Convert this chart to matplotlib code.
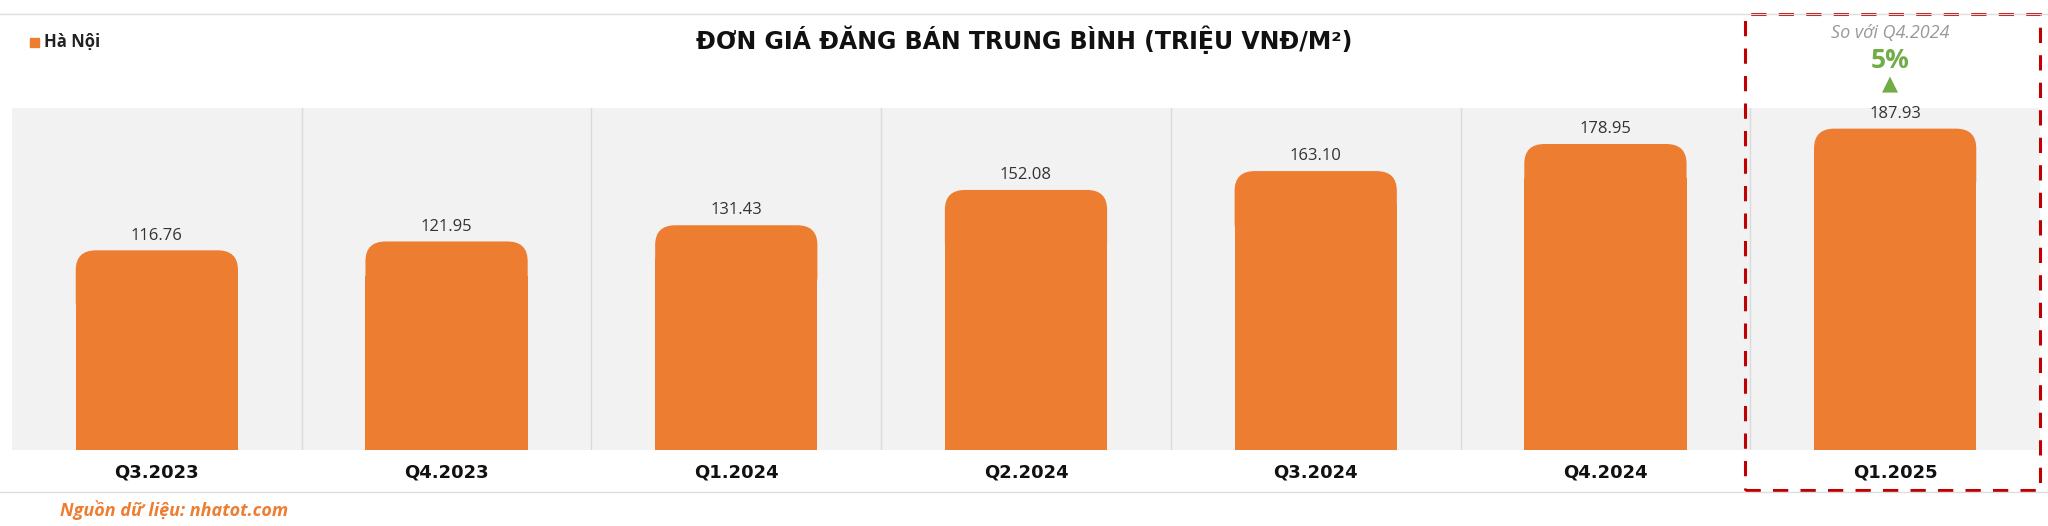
import matplotlib
matplotlib.use('Agg')
import matplotlib.pyplot as plt
from matplotlib.patches import FancyBboxPatch, Rectangle
import numpy as np

plt.rcParams['font.family'] = ['Open Sans', 'DejaVu Sans']

quarters = ['Q3.2023', 'Q4.2023', 'Q1.2024', 'Q2.2024', 'Q3.2024', 'Q4.2024', 'Q1.2025']
prices = [116.76, 121.95, 131.43, 152.08, 163.10, 178.95, 187.93]
labels = ['116.76', '121.95', '131.43', '152.08', '163.10', '178.95', '187.93']

orange = '#ED7D31'
W, H = 2048, 526
fig = plt.figure(figsize=(W / 100, H / 100), dpi=100)

ax = fig.add_axes([12 / W, (H - 450) / H, 2028 / W, 342 / H])
ax.set_facecolor('#F2F2F2')
ax.set_xlim(-0.5, len(quarters) - 0.5)
ax.set_ylim(0, 200)
for s in ax.spines.values():
    s.set_visible(False)
ax.set_xticks([])
ax.set_yticks([])

x = np.arange(len(quarters))
bw = 0.56
padx = 0.07
aspect = 165
pady = padx * aspect
# square lower part of each bar
ax.bar(x, [p - 20 for p in prices], width=bw, color=orange, zorder=2)
# rounded top caps
for xi, p in zip(x, prices):
    cap = FancyBboxPatch((xi - bw / 2 + padx, p - 30), bw - 2 * padx, 30 - pady,
                         boxstyle='round,pad=0.07', mutation_aspect=aspect,
                         fc=orange, ec='none', zorder=2)
    ax.add_patch(cap)
for xi in x[1:]:
    ax.axvline(xi - 0.5, color='#DADADA', lw=1, zorder=1)
for xi, p, lab in zip(x, prices, labels):
    ax.text(xi, p + 4, lab, ha='center', va='bottom', fontsize=12, color='#333333')
for xi, q in zip(x, quarters):
    fig.text((12 + (xi + 0.5) * 2028 / 7) / W, 1 - 472 / H, q, ha='center', va='center',
             fontsize=13, fontweight='bold', color='#111111', family='DejaVu Sans')

# frame lines
fig.add_artist(plt.Line2D([0, 1], [1 - 14 / H, 1 - 14 / H], color='#DDDDDD', lw=1))
fig.add_artist(plt.Line2D([0, 1], [1 - 492 / H, 1 - 492 / H], color='#DDDDDD', lw=1))

fig.text(1024 / W, 1 - 40 / H, 'ĐƠN GIÁ ĐĂNG BÁN TRUNG BÌNH (TRIỆU VNĐ/M²)', ha='center', va='center',
         fontsize=17, fontweight='bold', color='#111111', family='DejaVu Sans')
fig.add_artist(Rectangle((30 / W, 1 - 47 / H), 9 / W, 9 / H, color=orange))
fig.text(44 / W, 1 - 42 / H, 'Hà Nội', ha='left', va='center', fontsize=12, fontweight='bold', color='#222222')
fig.text(60 / W, 1 - 510 / H, 'Nguồn dữ liệu: nhatot.com', ha='left', va='center', fontsize=13,
         fontweight='bold', style='italic', color=orange)

# highlight box
fig.add_artist(Rectangle((1745 / W, 1 - 490 / H), 295 / W, 476 / H, fill=False, ec='#C00000',
                         lw=2.2, ls=(0, (5, 4))))
fig.text(1890 / W, 1 - 33 / H, 'So với Q4.2024', ha='center', va='center', fontsize=13,
         style='italic', color='#999999')
fig.text(1890 / W, 1 - 60 / H, '5%', ha='center', va='center', fontsize=19, fontweight='bold', color='#70AD47')
fig.text(1890 / W, 1 - 84 / H, '▲', ha='center', va='center', fontsize=15, color='#70AD47',
         family='DejaVu Sans')

fig.savefig('out.png', dpi=100)
